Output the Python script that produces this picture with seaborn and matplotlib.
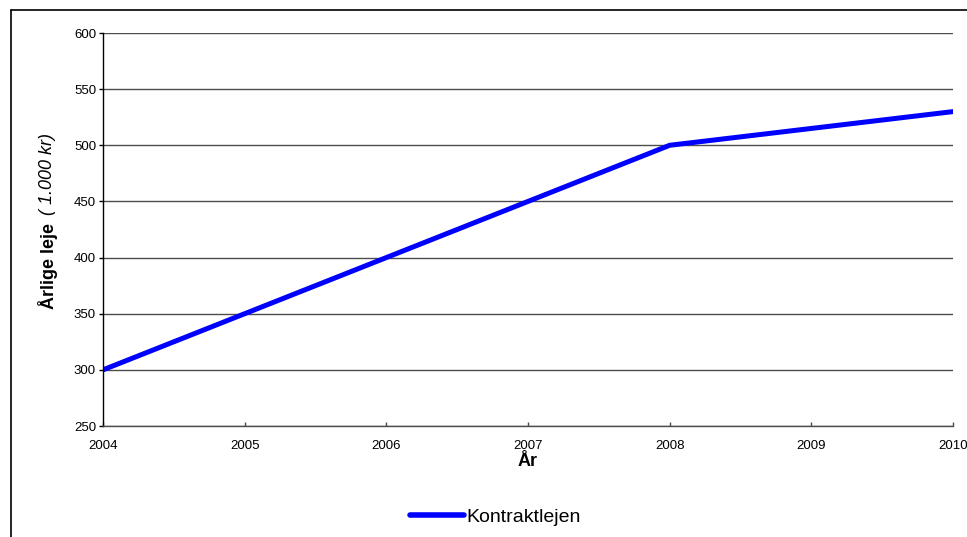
import pandas as pd
import seaborn as sns
import matplotlib.pyplot as plt
from matplotlib.lines import Line2D

# data
years = [2004, 2005, 2006, 2007, 2008, 2009, 2010]
rent = [300, 350, 400, 450, 500, 515, 530]
series_name = "Kontraktlejen"
y_ticks = [250, 300, 350, 400, 450, 500, 550, 600]

df = pd.DataFrame({"År": years, "leje": rent, "serie": series_name})

sns.set_style("white")
plt.rcParams["font.family"] = ["Liberation Sans", "DejaVu Sans"]
plt.rcParams["text.color"] = "black"
plt.rcParams["axes.labelcolor"] = "black"
plt.rcParams["xtick.color"] = "black"
plt.rcParams["ytick.color"] = "black"

fig = plt.figure(figsize=(9.67, 5.37), dpi=100)
ax = fig.add_axes([103 / 967, 1 - 426 / 537, 850 / 967, 393 / 537])

sns.lineplot(data=df, x="År", y="leje", color="#0000FF", linewidth=3.6,
             solid_capstyle="round", ax=ax, legend=False)

ax.set_xlim(2004, 2010)
ax.set_ylim(250, 600)
ax.set_yticks(y_ticks)
ax.set_xticks(years)
ax.set_xticklabels([str(y) for y in years])
ax.yaxis.grid(True, color="#4d4d4d", linewidth=1.0)
ax.xaxis.grid(False)
ax.set_axisbelow(True)

for side in ["top", "right"]:
    ax.spines[side].set_visible(False)
ax.spines["left"].set_color("black")
ax.spines["bottom"].set_color("#4d4d4d")
ax.spines["left"].set_linewidth(1.0)
ax.spines["bottom"].set_linewidth(1.0)

ax.tick_params(axis="y", direction="out", length=3, width=1, pad=2,
               labelsize=9.5, left=True, labelcolor="black")
ax.tick_params(axis="x", direction="in", length=3, width=1, pad=10,
               labelsize=9.5, bottom=True, color="#4d4d4d", labelcolor="black")

ax.set_xlabel("År", fontsize=13, fontweight="bold", labelpad=1, color="black")
ax.set_ylabel("")

# y label in two styles
fig.text(48 / 967, 1 - 266 / 537, "Årlige leje", rotation=90, fontsize=13,
         fontweight="bold", ha="center", va="center", color="black")
fig.text(48 / 967, 1 - 174 / 537, "( 1.000 kr)", rotation=90, fontsize=13,
         fontstyle="italic", ha="center", va="center", color="black")

# legend below the plot
handle = Line2D([], [], color="#0000FF", linewidth=4, solid_capstyle="round")
fig.legend([handle], [series_name], loc="center",
           bbox_to_anchor=(495 / 967, 1 - 517 / 537), frameon=False,
           fontsize=14, handlelength=2.8, handletextpad=0.1, labelcolor="black")

# chart border
fig.add_artist(Line2D([11 / 967, 11 / 967], [0, 1 - 10 / 537], color="black",
                      linewidth=1.2, transform=fig.transFigure))
fig.add_artist(Line2D([11 / 967, 1], [1 - 10 / 537, 1 - 10 / 537], color="black",
                      linewidth=1.2, transform=fig.transFigure))

fig.savefig("out.png", dpi=100)
